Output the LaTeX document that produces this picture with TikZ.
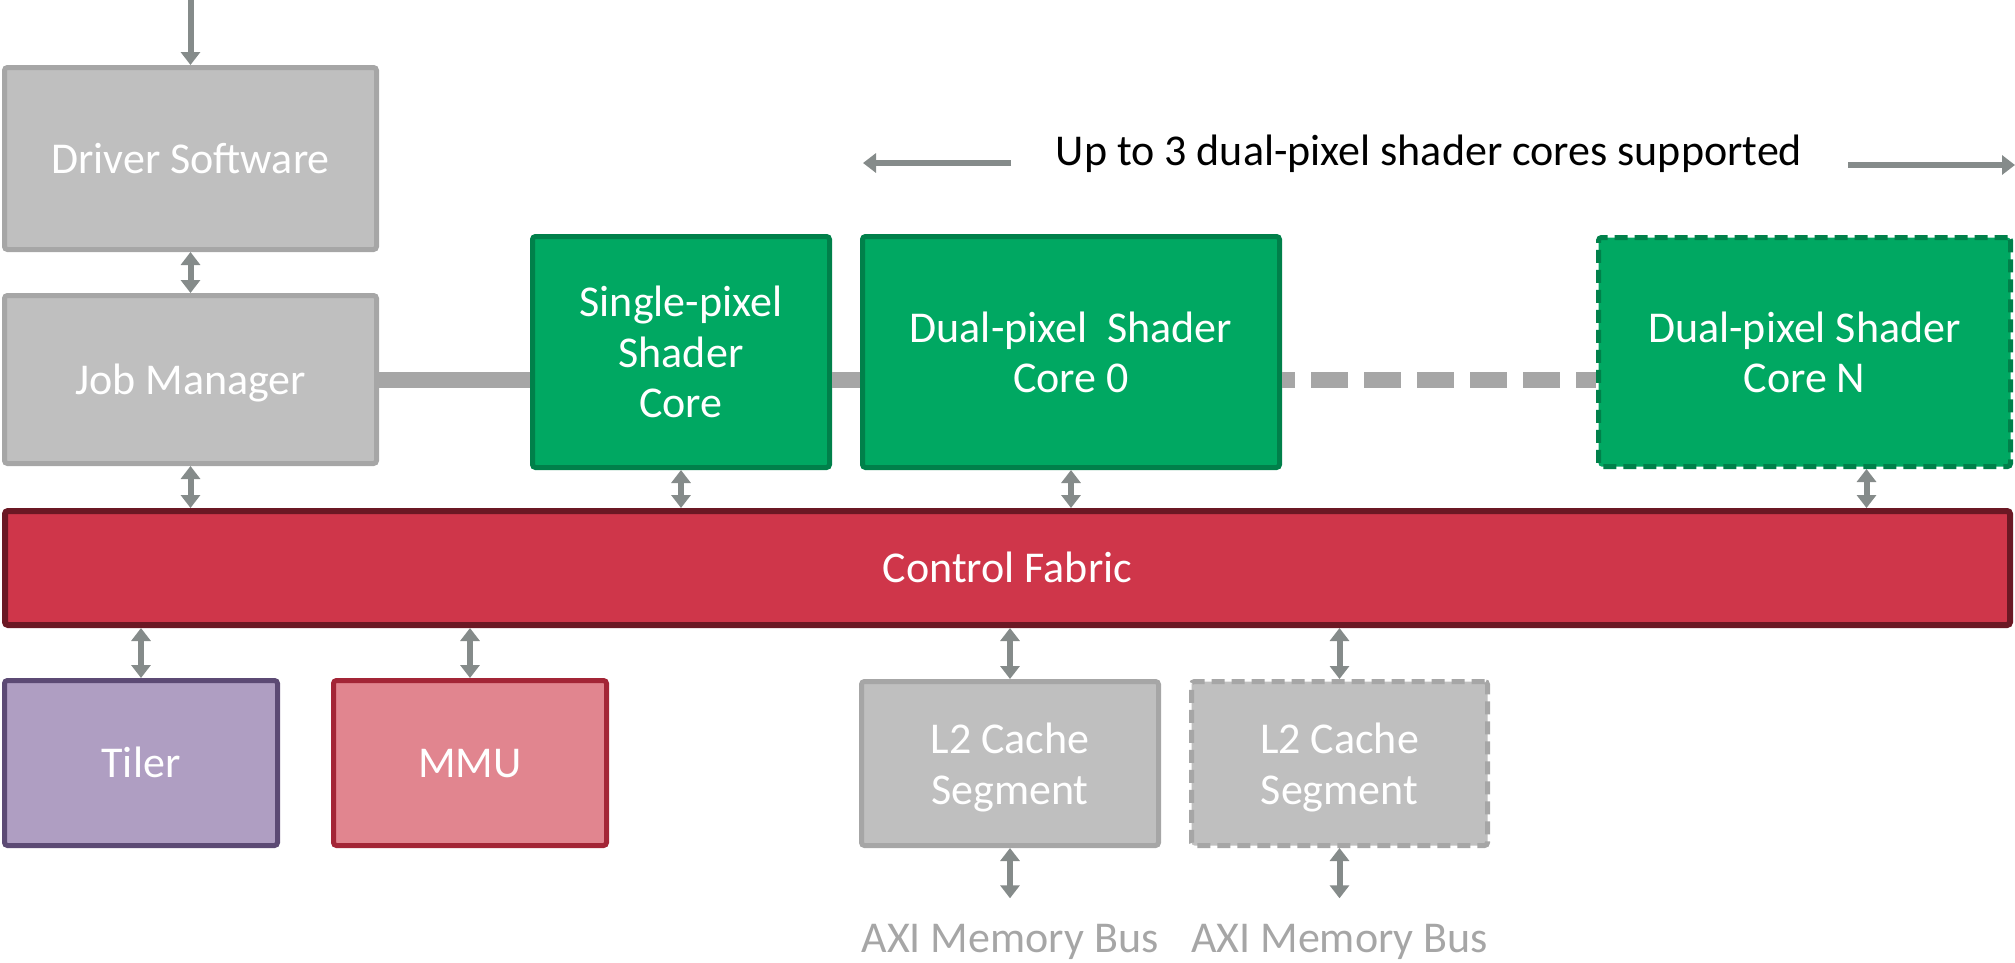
\documentclass[tikz,border=0pt]{standalone}
\usepackage{fontspec}
\setmainfont{Carlito}
\usetikzlibrary{arrows.meta,calc}

\definecolor{boxgray}{HTML}{BFBFBF}
\definecolor{edgegray}{HTML}{A6A6A6}
\definecolor{arrowgray}{HTML}{858B8A}
\definecolor{coregreen}{HTML}{00A862}
\definecolor{coreedge}{HTML}{00804A}
\definecolor{fabricred}{HTML}{CF364A}
\definecolor{fabricedge}{HTML}{6B1824}
\definecolor{tilerfill}{HTML}{AF9EC2}
\definecolor{tileredge}{HTML}{5C4A74}
\definecolor{mmufill}{HTML}{E1858F}
\definecolor{mmuedge}{HTML}{A32536}

\newcommand\blkfont{\fontsize{44}{50.5}\selectfont}

\begin{document}
\begin{tikzpicture}[x=1pt,y=-1pt,
  blk/.style={draw, line width=5pt, rounded corners=3pt, align=center,
    text=white, font=\blkfont, inner sep=0pt},
  oneline/.style={text height=29pt, text depth=0pt},
  graybox/.style={blk, fill=boxgray, draw=edgegray},
  corebox/.style={blk, fill=coregreen, draw=coreedge},
  optional/.style={dash pattern=on 13pt off 7pt},
  link/.style={draw=arrowgray, line width=6pt,
    {Triangle[width=19pt,length=13pt]}-{Triangle[width=19pt,length=13pt]}},
  oneway/.style={draw=arrowgray, line width=6pt, -{Triangle[width=19pt,length=13pt]}},
  bus/.style={draw=edgegray, line width=16pt},
]
\useasboundingbox (0,0) rectangle (2015,962);

% host side
\node[graybox, oneline, minimum width=372pt, minimum height=182pt] (drv) at (190.5,158.5) {Driver Software};
\node[graybox, oneline, minimum width=372pt, minimum height=168pt] (job) at (190.5,379.5) {Job Manager};

% shader cores
\node[corebox, minimum width=297pt, minimum height=231pt] (single) at (681,352) {Single-pixel\\Shader\\Core};
\node[corebox, text depth=-4pt, minimum width=417pt, minimum height=231pt] (dual0) at (1071,352) {Dual-pixel\ \ Shader\\Core 0};
\node[corebox, text depth=-4pt, optional, minimum width=412pt, minimum height=229pt] (dualN) at (1804.5,352) {Dual-pixel Shader\\Core N};

% heading with its span arrows
\node[font=\blkfont, text=black, inner sep=0pt, oneline] (head) at (1429,151) {Up to 3 dual-pixel shader cores supported};
\coordinate (spanL0) at (1011,163);
\coordinate (spanL1) at (863,163);
\coordinate (spanR0) at (1848,165);
\coordinate (spanR1) at (2015,165);
\draw[oneway] (spanL0) -- (spanL1);
\draw[oneway] (spanR0) -- (spanR1);

% control fabric
\node[blk, oneline, fill=fabricred, draw=fabricedge, line width=6pt, minimum width=2005pt, minimum height=114pt] (fabric) at (1007.5,568) {Control Fabric};

% units below the fabric
\node[blk, oneline, fill=tilerfill, draw=tileredge, minimum width=273pt, minimum height=165pt] (tiler) at (141,763) {Tiler};
\node[blk, oneline, fill=mmufill, draw=mmuedge, minimum width=273pt, minimum height=165pt] (mmu) at (470,763) {MMU};
\node[graybox, text depth=0pt, minimum width=297pt, minimum height=164pt] (l2a) at (1010,763.5) {L2 Cache\\Segment};
\node[graybox, text depth=0pt, optional, minimum width=296pt, minimum height=164pt] (l2b) at (1339.5,763.5) {L2 Cache\\Segment};

\node[font=\blkfont, text=edgegray, inner sep=0pt, oneline] (axiA) at (1010,938) {AXI Memory Bus};
\node[font=\blkfont, text=edgegray, inner sep=0pt, oneline] (axiB) at (1339.5,938) {AXI Memory Bus};

% job dispatch bus
\draw[bus] (job.east) -- (job.east -| single.west);
\draw[bus] (job.east -| single.east) -- (job.east -| dual0.west);
\draw[bus, dash pattern=on 37pt off 16pt, dash phase=24pt] (job.east -| dual0.east) -- (job.east -| dualN.west);

% control connections
\coordinate (feed) at (190.5,0);
\draw[oneway] (feed) -- (drv.north);
\draw[link] (drv.south) -- (job.north);
\draw[link] (job.south) -- (job.south |- fabric.north);
\draw[link] (single.south) -- (single.south |- fabric.north);
\draw[link] (dual0.south) -- (dual0.south |- fabric.north);
\coordinate (nTap) at ([xshift=62pt]dualN.south);
\draw[link] (nTap) -- (nTap |- fabric.north);
\draw[link] (tiler.north |- fabric.south) -- (tiler.north);
\draw[link] (mmu.north |- fabric.south) -- (mmu.north);
\draw[link] (l2a.north |- fabric.south) -- (l2a.north);
\draw[link] (l2b.north |- fabric.south) -- (l2b.north);
\draw[link] (l2a.south) -- ([yshift=25pt]axiA.north);
\draw[link] (l2b.south) -- ([yshift=25pt]axiB.north);
\end{tikzpicture}
\end{document}
